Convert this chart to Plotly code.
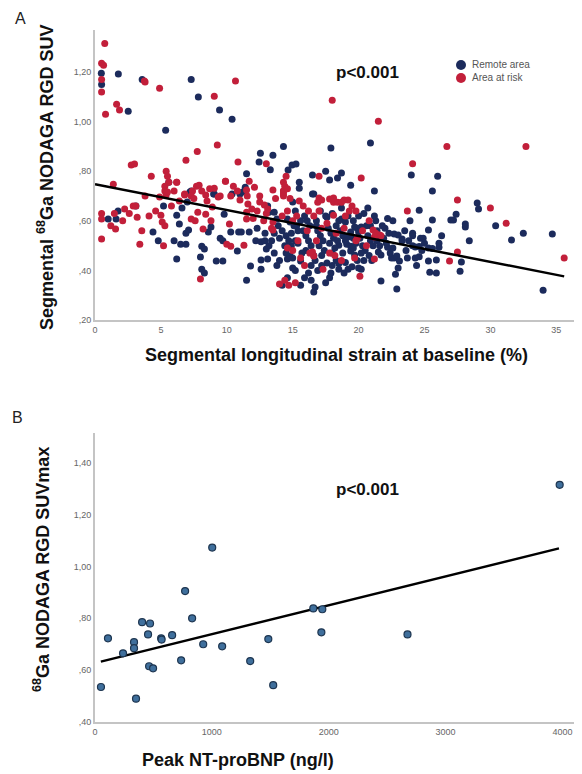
import plotly.graph_objects as go

# ---------------- Panel A data (segmental strain vs SUV) ----------------
remote_x = [
    0.48, 0.5, 1.77, 3.58, 7.3, 7.84, 9.45, 10.4, 2.52, 5.36, 14.3, 12.55, 13.5, 12.45, 13.3, 11.5, 14.95, 15.25, 14.65,
    17.9, 20.9, 16.5, 17.5, 18.7, 17.8, 18.4, 19.4, 24.0, 26.0, 21.2, 25.6, 16.5,
    29.0, 29.1, 30.4, 32.5, 34.7, 31.6, 34.0, 28.4, 28.1, 28.1, 27.4, 27.0, 27.2, 25.6, 24.6, 25.3, 26.3, 27.8, 27.7,
    25.9, 25.3, 25.9, 25.4, 24.4, 23.7, 24.3, 24.6, 24.1, 24.3, 24.6, 24.8, 25.3, 25.6, 24.1, 24.1, 24.7, 26.1, 26.1,
    23.3, 23.3, 22.7, 23.0, 22.2, 21.7, 22.9, 23.0, 22.8, 22.5, 22.7, 22.9, 23.1, 20.0, 20.2, 21.5, 21.7, 20.9, 20.6,
    21.3, 21.2, 20.7, 20.4, 16.6, 15.5, 16.8, 17.6, 18.0, 18.7, 18.7, 19.0, 19.7, 19.9, 20.2, 20.0, 19.4, 19.2, 18.5,
    19.1, 19.4, 18.8, 19.4, 19.7, 18.3, 18.5, 19.0, 18.5, 19.2, 19.5, 17.8, 17.5, 16.7, 16.6, 16.7, 16.4, 15.6, 15.2,
    1.0, 1.6, 1.75, 3.1, 4.4, 4.8, 5.2, 6.0, 6.2, 6.2, 6.4, 6.5, 6.9, 6.6, 7.0, 7.2, 7.3, 6.9, 7.1, 8.0, 8.1, 8.3, 8.1,
    8.3, 8.8, 8.6, 9.0, 9.2, 9.7, 9.5, 9.7, 9.8, 10.3, 10.8, 10.9, 11.1, 11.5, 11.8, 11.7, 12.2, 12.6, 12.9, 12.6, 12.6,
    13.1, 13.0, 13.1, 13.2, 13.6, 13.8, 14.0, 14.6, 14.8, 15.0, 15.0, 14.6, 14.2, 14.0, 14.5, 14.9, 15.2, 15.4, 10.4,
    11.0, 11.4, 11.2, 5.6, 9.05, 15.0, 15.2, 14.6, 14.8, 15.3, 15.5,
    15.8, 16.0, 16.2, 16.4, 16.0, 15.7, 16.9, 17.1, 17.3, 17.0, 17.4, 17.2, 16.8, 17.7, 17.9, 18.1, 17.8, 18.2, 18.0,
    18.3, 18.6, 18.8, 18.4, 19.0, 19.6, 19.8, 20.1, 20.3, 20.5, 20.7, 20.9, 21.1, 21.4, 21.6, 21.9, 22.1, 22.3, 22.0,
    22.4, 22.6, 20.8, 21.0, 20.4, 19.9, 19.6, 20.2, 16.3, 16.1, 15.9, 15.6, 15.4, 15.1, 14.9, 14.7, 14.4, 14.2, 13.9,
    13.6, 13.4, 13.2, 13.6, 17.5, 17.1, 18.5, 19.2, 19.6, 20.0, 21.8, 22.2, 23.5, 23.8, 23.6, 24.9, 25.0, 23.9, 22.6,
    21.4, 16.6, 17.6, 18.0, 17.2, 16.9, 16.2, 15.9, 16.4, 15.6, 18.9, 17.9, 14.5, 13.8, 12.9, 12.3,
]
remote_y = [
    1.196, 1.15, 1.192, 1.17, 1.17, 1.10, 1.047, 1.01, 1.042, 0.966, 0.90, 0.873, 0.865, 0.837, 0.806, 0.79, 0.825, 0.829, 0.805,
    0.894, 0.914, 0.785, 0.80, 0.793, 0.765, 0.773, 0.744, 0.785, 0.78, 0.72, 0.72, 0.708,
    0.672, 0.648, 0.58, 0.55, 0.547, 0.523, 0.32, 0.52, 0.587, 0.575, 0.627, 0.603, 0.603, 0.603, 0.643, 0.563, 0.54, 0.434, 0.397,
    0.442, 0.438, 0.39, 0.393, 0.42, 0.45, 0.45, 0.455, 0.50, 0.495, 0.497, 0.48, 0.49, 0.488, 0.55, 0.54, 0.53, 0.51, 0.494,
    0.527, 0.52, 0.547, 0.543, 0.494, 0.357, 0.325, 0.41, 0.385, 0.45, 0.45, 0.458, 0.438, 0.41, 0.405, 0.474, 0.462, 0.58, 0.58,
    0.60, 0.62, 0.652, 0.63, 0.708, 0.732, 0.60, 0.615, 0.63, 0.652, 0.607, 0.595, 0.575, 0.57, 0.575, 0.555, 0.555, 0.535, 0.502,
    0.506, 0.498, 0.47, 0.478, 0.462, 0.44, 0.428, 0.432, 0.405, 0.405, 0.415, 0.37, 0.35, 0.333, 0.313, 0.44, 0.42, 0.438, 0.40,
    0.607, 0.607, 0.64, 0.66, 0.555, 0.52, 0.66, 0.52, 0.446, 0.623, 0.587, 0.506, 0.506, 0.652, 0.676, 0.716, 0.72, 0.55, 0.563, 0.454, 0.405, 0.39, 0.498,
    0.486, 0.575, 0.555, 0.708, 0.438, 0.438, 0.53, 0.52, 0.627, 0.555, 0.478, 0.555, 0.555, 0.36, 0.418, 0.555, 0.52, 0.516, 0.52, 0.442, 0.405,
    0.446, 0.486, 0.66, 0.635, 0.635, 0.607, 0.44, 0.446, 0.458, 0.45, 0.41, 0.37, 0.34, 0.53, 0.54, 0.50, 0.52, 0.51, 0.708,
    0.708, 0.736, 0.716, 0.756, 0.708, 0.676, 0.64, 0.607, 0.595, 0.58, 0.756,
    0.56, 0.54, 0.52, 0.50, 0.48, 0.47, 0.56, 0.54, 0.52, 0.50, 0.48, 0.46, 0.58, 0.57, 0.55, 0.53, 0.51, 0.49, 0.47,
    0.58, 0.56, 0.54, 0.52, 0.52, 0.53, 0.51, 0.53, 0.50, 0.48, 0.54, 0.52, 0.50, 0.52, 0.50, 0.53, 0.51, 0.55, 0.57,
    0.47, 0.49, 0.46, 0.44, 0.44, 0.44, 0.49, 0.47, 0.58, 0.60, 0.62, 0.60, 0.56, 0.58, 0.55, 0.52, 0.50, 0.56, 0.58,
    0.55, 0.52, 0.50, 0.47, 0.62, 0.64, 0.60, 0.62, 0.60, 0.62, 0.58, 0.61, 0.56, 0.52, 0.48, 0.53, 0.51, 0.60, 0.60,
    0.56, 0.46, 0.43, 0.42, 0.42, 0.40, 0.39, 0.37, 0.36, 0.34, 0.39, 0.39, 0.47, 0.42, 0.55, 0.57,
]

risk_x = [
    0.74, 0.5, 0.65, 0.5, 0.5, 0.8, 1.64, 1.86, 3.75, 3.8, 4.9, 10.66, 9.05, 9.28, 7.76, 6.9, 2.75, 3.0, 4.27, 5.4, 10.85,
    13.0, 1.39, 18.0, 21.5, 26.7, 32.7, 24.1, 20.2, 17.0, 27.5, 30.0, 31.2, 35.6, 23.7, 27.5, 26.9, 20.1, 21.2, 21.2, 21.6,
    21.1, 21.3, 19.8, 18.1, 18.4, 18.7, 18.9, 19.2, 17.8, 18.1, 17.0, 17.2, 16.9, 14.3, 14.3, 17.0, 18.1, 19.9, 19.8, 17.3,
    16.5, 16.6,
    0.5, 0.5, 0.5, 1.47, 1.56, 2.25, 2.9, 3.1, 3.2, 3.55, 3.4, 4.9, 5.4, 6.0, 6.8, 5.3, 5.6, 6.2, 5.0, 5.1, 5.3, 5.2, 7.3,
    7.6, 7.8, 8.4, 8.8, 8.2, 8.0, 10.2, 10.0, 10.3, 11.3, 11.5, 11.6, 11.9, 11.5, 14.0,
    5.5, 6.2, 5.3, 5.5, 6.8, 7.4, 7.7, 9.05, 9.5, 9.9, 10.3, 11.7, 12.1, 13.5, 14.5, 7.3, 7.9, 8.4, 9.35, 8.9, 8.5, 10.8,
    11.0, 11.5, 11.55, 12.5, 12.85, 13.1, 13.5, 13.5, 14.3, 14.3,
    14.2, 14.6, 15.0, 15.3, 15.8, 16.2, 16.6, 16.1, 15.4, 15.0, 14.6, 15.6, 15.9, 16.8, 17.2, 17.6, 18.3, 18.9, 19.3, 19.5,
    19.0, 18.2, 18.7, 17.8, 16.3, 20.6, 20.3, 21.7, 20.8, 19.7, 15.2, 14.7, 14.4, 13.4, 12.8, 13.0, 12.3, 12.0, 12.5, 13.7,
    14.8, 15.5, 14.3, 14.4, 14.6,
    10.5, 9.9, 8.7, 8.1, 7.5, 6.4, 5.8, 4.6, 4.1, 3.8, 2.6, 1.2, 2.1,
]
risk_y = [
    1.316, 1.236, 1.228, 1.17, 1.12, 1.03, 1.07, 1.047, 1.164, 1.16, 1.135, 1.164, 1.103, 0.906, 0.88, 0.845, 0.825, 0.829, 0.78, 0.80, 0.837,
    0.83, 0.748, 1.087, 1.002, 0.90, 0.90, 0.83, 0.773, 0.78, 0.684, 0.652, 0.59, 0.45, 0.64, 0.474, 0.438, 0.377, 0.446, 0.535, 0.543,
    0.563, 0.55, 0.64, 0.675, 0.675, 0.675, 0.684, 0.684, 0.688, 0.692, 0.692, 0.684, 0.675, 0.72, 0.708, 0.64, 0.623, 0.53, 0.52, 0.405,
    0.474, 0.458,
    0.63, 0.607, 0.527, 0.63, 0.567, 0.648, 0.66, 0.66, 0.615, 0.56, 0.506, 0.696, 0.704, 0.72, 0.704, 0.74, 0.756, 0.756, 0.623, 0.595, 0.58, 0.50, 0.607,
    0.60, 0.635, 0.627, 0.60, 0.567, 0.365, 0.587, 0.506, 0.498, 0.502, 0.635, 0.668, 0.648, 0.607, 0.345,
    0.78, 0.756, 0.72, 0.716, 0.708, 0.72, 0.74, 0.732, 0.70, 0.76, 0.70, 0.76, 0.736, 0.724, 0.78, 0.70, 0.744, 0.704, 0.696, 0.656, 0.68, 0.72,
    0.684, 0.724, 0.70, 0.676, 0.664, 0.648, 0.595, 0.563, 0.72, 0.70,
    0.62, 0.64, 0.60, 0.62, 0.66, 0.64, 0.62, 0.56, 0.52, 0.48, 0.49, 0.45, 0.42, 0.52, 0.57, 0.59, 0.55, 0.57, 0.64, 0.66,
    0.62, 0.46, 0.44, 0.47, 0.47, 0.50, 0.56, 0.54, 0.60, 0.45, 0.35, 0.34, 0.36, 0.57, 0.60, 0.63, 0.64, 0.61, 0.70, 0.69,
    0.69, 0.68, 0.756, 0.74, 0.73,
    0.74, 0.76, 0.73, 0.72, 0.69, 0.68, 0.66, 0.64, 0.62, 0.70, 0.63, 0.58, 0.60,
]

fitA_x = [0.0, 35.6]
fitA_y = [0.748, 0.376]

xticksA = [0, 5, 10, 15, 20, 25, 30, 35]
yticksA = [0.2, 0.4, 0.6, 0.8, 1.0, 1.2]
yticklabelsA = [",20", ",40", ",60", ",80", "1,00", "1,20"]

legend_labels = ["Remote area", "Area at risk"]

# ---------------- Panel B data (NT-proBNP vs SUVmax) ----------------
bnp = [51, 111, 240, 334, 334, 351, 403, 454, 471, 463, 497, 566, 570, 660, 737, 771, 831, 926, 1003, 1088,
       1328, 1483, 1525, 1868, 1945, 1937, 2674, 3976]
suvmax = [0.535, 0.723, 0.665, 0.708, 0.685, 0.49, 0.785, 0.738, 0.78, 0.615, 0.607, 0.723, 0.718, 0.735, 0.638,
          0.905, 0.80, 0.70, 1.073, 0.692, 0.635, 0.72, 0.542, 0.838, 0.835, 0.746, 0.738, 1.315]

fitB_x = [50, 3970]
fitB_y = [0.633, 1.07]

xticksB = [0, 1000, 2000, 3000, 4000]
yticksB = [0.4, 0.6, 0.8, 1.0, 1.2, 1.4]
yticklabelsB = [",40", ",60", ",80", "1,00", "1,20", "1,40"]

# ---------------- Figure ----------------
OFF = 8  # page body margin of the html page
W, H = 582 - OFF, 774 - OFF
ML, MR, MT, MB = 95 - OFF, 2, 30 - OFF, 52
PW, PH = W - ML - MR, H - MT - MB


def px_x(px):  # page pixel -> paper x
    return (px - OFF - ML) / PW


def px_y(py):  # page pixel -> paper y
    return (H - MB - (py - OFF)) / PH


BLUE = "#1c2b5c"
RED = "#c21f3a"
FONT = "Liberation Sans, Arial, sans-serif"

fig = go.Figure()
fig.add_trace(go.Scatter(x=remote_x, y=remote_y, mode="markers", name=legend_labels[0],
                         marker=dict(color=BLUE, size=7), xaxis="x", yaxis="y"))
fig.add_trace(go.Scatter(x=risk_x, y=risk_y, mode="markers", name=legend_labels[1],
                         marker=dict(color=RED, size=7), xaxis="x", yaxis="y"))
fig.add_trace(go.Scatter(x=fitA_x, y=fitA_y, mode="lines", showlegend=False,
                         line=dict(color="black", width=2.5), xaxis="x", yaxis="y"))

fig.add_trace(go.Scatter(x=fitB_x, y=fitB_y, mode="lines", showlegend=False,
                         line=dict(color="black", width=2.5), xaxis="x2", yaxis="y2"))
fig.add_trace(go.Scatter(x=bnp, y=suvmax, mode="markers", showlegend=False,
                         marker=dict(color="#3f6f9c", size=7, line=dict(color="#1d3550", width=1.2)),
                         xaxis="x2", yaxis="y2"))

axis_common = dict(showgrid=False, zeroline=False, showline=True, linecolor="#c4c4c4", linewidth=2,
                   ticks="", tickfont=dict(family=FONT, size=9, color="#666"), mirror=False,
                   automargin=False)

fig.update_layout(
    width=W, height=H,
    margin=dict(l=ML, r=MR, t=MT, b=MB, autoexpand=False),
    paper_bgcolor="white", plot_bgcolor="white",
    font=dict(family=FONT),
    xaxis=dict(domain=[0, 1], anchor="y", range=[0, 36.8], tickvals=xticksA, **axis_common),
    yaxis=dict(domain=[px_y(320), 1], anchor="x", range=[0.2, 1.37], tickvals=yticksA,
               ticktext=yticklabelsA, **axis_common),
    xaxis2=dict(domain=[0, 1], anchor="y2", range=[0, 4150], tickvals=xticksB, **axis_common),
    yaxis2=dict(domain=[0, px_y(433)], anchor="x2", range=[0.4, 1.515], tickvals=yticksB,
                ticktext=yticklabelsB, **axis_common),
    showlegend=False,
)

ann = []


def add_text(text, px, py, size, color="#111", angle=0, xanchor="center"):
    ann.append(dict(text=text, x=px_x(px), y=px_y(py), xref="paper", yref="paper", showarrow=False,
                    xanchor=xanchor, yanchor="middle", textangle=angle,
                    font=dict(family=FONT, size=size, color=color)))


add_text("A", 20, 18, 16, "#222")
add_text("B", 17, 417, 16, "#222")
add_text("<b>p<0.001</b>", 367, 73, 17)
add_text("<b>p<0.001</b>", 367, 489, 17)
add_text("<b>Segmental <sup>68</sup>Ga NODAGA RGD SUV</b>", 46, 178, 18, angle=-90)
add_text("<b>Segmental longitudinal strain at baseline (%)</b>", 336, 355, 18)
add_text("<b><sup>68</sup>Ga NODAGA RGD SUVmax</b>", 41, 570, 18, angle=-90)
add_text("<b>Peak NT-proBNP (ng/l)</b>", 238, 760, 18)

# legend (markers + labels) drawn at the reference position
shapes = []
for label, color, py in [(legend_labels[0], BLUE, 65), (legend_labels[1], RED, 78)]:
    r = 5
    shapes.append(dict(type="circle", xref="paper", yref="paper",
                       x0=px_x(461 - r), x1=px_x(461 + r), y0=px_y(py + r), y1=px_y(py - r),
                       fillcolor=color, line=dict(width=0)))
    add_text(label, 470, py, 10, "#555", xanchor="left")

fig.update_layout(annotations=ann, shapes=shapes)

fig.write_html("out.html")
